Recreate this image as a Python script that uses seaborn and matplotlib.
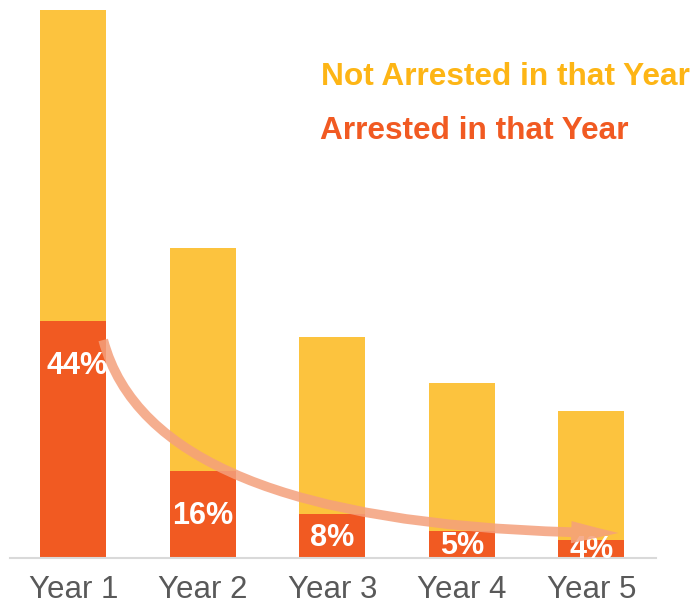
import matplotlib
matplotlib.use("Agg")
import matplotlib.pyplot as plt
import pandas as pd
import seaborn as sns
from matplotlib.patches import FancyArrowPatch
from matplotlib.path import Path

# data (arbitrary units)
years = ["Year 1", "Year 2", "Year 3", "Year 4", "Year 5"]
total = [548, 310, 221, 175, 147]
arrested = [237, 87, 44, 27, 18]
pct_labels = ["44%", "16%", "8%", "5%", "4%"]

YELLOW = "#FCC33E"
ORANGE = "#F15A22"

sns.set_style("white")
plt.rcParams["font.family"] = ["Liberation Sans", "DejaVu Sans"]

df = pd.DataFrame({"year": years, "total": total, "arrested": arrested})

fig = plt.figure(figsize=(6.94, 6.11), dpi=100)
ax = fig.add_axes([10 / 694, 53 / 611, 646 / 694, 553 / 611])

sns.barplot(data=df, x="year", y="total", color=YELLOW, width=0.51,
            saturation=1, linewidth=0, ax=ax)
sns.barplot(data=df, x="year", y="arrested", color=ORANGE, width=0.51,
            saturation=1, linewidth=0, ax=ax)

ax.set_xlim(-0.49, 4.5)
ax.set_ylim(0, 553)

# percent labels inside the arrested bars
for i, (a, lab) in enumerate(zip(arrested, pct_labels)):
    y = max(a - 45, a * 0.46)
    xoff = 0.03 if i == 0 else 0
    ax.text(i + xoff, y, lab, ha="center", va="center", color="white",
            fontsize=22, fontweight="bold", clip_on=True, zorder=5)

# curved arrow from Year 1 down to Year 5
verts = [(0.23, 218), (0.62, 28), (4.21, 25)]
path = Path(verts, [Path.MOVETO, Path.CURVE3, Path.CURVE3])
arrow = FancyArrowPatch(path=path,
                        arrowstyle="simple,head_length=34,head_width=16,tail_width=7",
                        mutation_scale=1, facecolor="#F4A07C", edgecolor="none",
                        alpha=0.85, zorder=6)
ax.add_patch(arrow)

# axes styling
for s in ["top", "right", "left"]:
    ax.spines[s].set_visible(False)
ax.spines["bottom"].set_color("#D9D9D9")
ax.spines["bottom"].set_linewidth(1.5)
ax.set_yticks([])
ax.set_xlabel("")
ax.set_ylabel("")
ax.tick_params(axis="x", length=0, pad=12, labelsize=22.5, labelcolor="#595959")

# legend as coloured text
fig.text(321 / 694, 1 - 77 / 611, "Not Arrested in that Year", color="#FDB515",
         fontsize=22.8, fontweight="bold", ha="left", va="center")
fig.text(320 / 694, 1 - 131 / 611, "Arrested in that Year", color=ORANGE,
         fontsize=22.8, fontweight="bold", ha="left", va="center")

fig.savefig("out.png", dpi=100)
